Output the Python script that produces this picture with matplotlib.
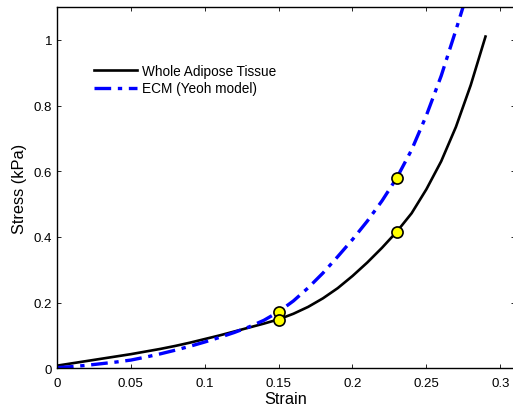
import matplotlib
matplotlib.use("Agg")
import matplotlib.pyplot as plt

plt.rcParams['font.family'] = ['Liberation Sans', 'DejaVu Sans']

# strain / stress values
strain_tissue = [0.0, 0.01, 0.02, 0.03, 0.04, 0.05, 0.06, 0.07, 0.08, 0.09,
                 0.10, 0.11, 0.12, 0.13, 0.14, 0.15, 0.16, 0.17, 0.18, 0.19,
                 0.20, 0.21, 0.22, 0.23, 0.24, 0.25, 0.26, 0.27, 0.28, 0.29]
stress_tissue = [0.008, 0.015, 0.022, 0.029, 0.036, 0.043, 0.051, 0.059, 0.068, 0.078,
                 0.089, 0.100, 0.112, 0.124, 0.136, 0.149, 0.166, 0.187, 0.213, 0.244,
                 0.281, 0.322, 0.367, 0.416, 0.472, 0.545, 0.63, 0.735, 0.862, 1.01]

strain_ecm = [0.0, 0.01, 0.02, 0.03, 0.04, 0.05, 0.06, 0.07, 0.08, 0.09,
              0.10, 0.11, 0.12, 0.13, 0.14, 0.15, 0.16, 0.17, 0.18, 0.19,
              0.20, 0.21, 0.22, 0.23, 0.24, 0.25, 0.26, 0.27, 0.2755]
stress_ecm = [0.002, 0.005, 0.009, 0.014, 0.019, 0.025, 0.034, 0.044, 0.055, 0.067,
              0.080, 0.094, 0.109, 0.126, 0.146, 0.172, 0.205, 0.245, 0.29, 0.34,
              0.392, 0.448, 0.51, 0.58, 0.665, 0.77, 0.89, 1.03, 1.11]

pts_strain = [0.15, 0.15, 0.23, 0.23]
pts_stress = [0.172, 0.148, 0.58, 0.414]

fig = plt.figure(figsize=(5.13, 4.10), dpi=100)
ax = fig.add_axes([0.111, 0.0993, 0.893, 0.8812])

ax.plot(strain_tissue, stress_tissue, color='black', lw=1.9, label='Whole Adipose Tissue')
ax.plot(strain_ecm, stress_ecm, color='blue', lw=2.4, ls='-.', dashes=(5, 2, 1.3, 2),
        label='ECM (Yeoh model)')
ax.plot(pts_strain, pts_stress, 'o', ms=8, mfc='yellow', mec='black', mew=1.2, zorder=5)

ax.set_xlim(0, 0.31)
ax.set_ylim(0, 1.1)
ax.set_xticks([0, 0.05, 0.1, 0.15, 0.2, 0.25, 0.3])
ax.set_xticklabels(['0', '0.05', '0.1', '0.15', '0.2', '0.25', '0.3'])
ax.set_yticks([0, 0.2, 0.4, 0.6, 0.8, 1.0])
ax.set_yticklabels(['0', '0.2', '0.4', '0.6', '0.8', '1'])
ax.tick_params(direction='in', top=True, right=True, labelsize=9.5, length=3, width=0.6)
ax.tick_params(axis='x', pad=6)
for s in ax.spines.values():
    s.set_linewidth(1.0)

ax.set_xlabel('Strain', fontsize=11.8, labelpad=2)
ax.set_ylabel('Stress (kPa)', fontsize=11.8, labelpad=5)

ax.legend(loc='upper left', bbox_to_anchor=(0.055, 0.876), frameon=False, fontsize=9.8,
          handlelength=3.1, handletextpad=0.37, labelspacing=0.25)

fig.savefig('out.png', dpi=100)
